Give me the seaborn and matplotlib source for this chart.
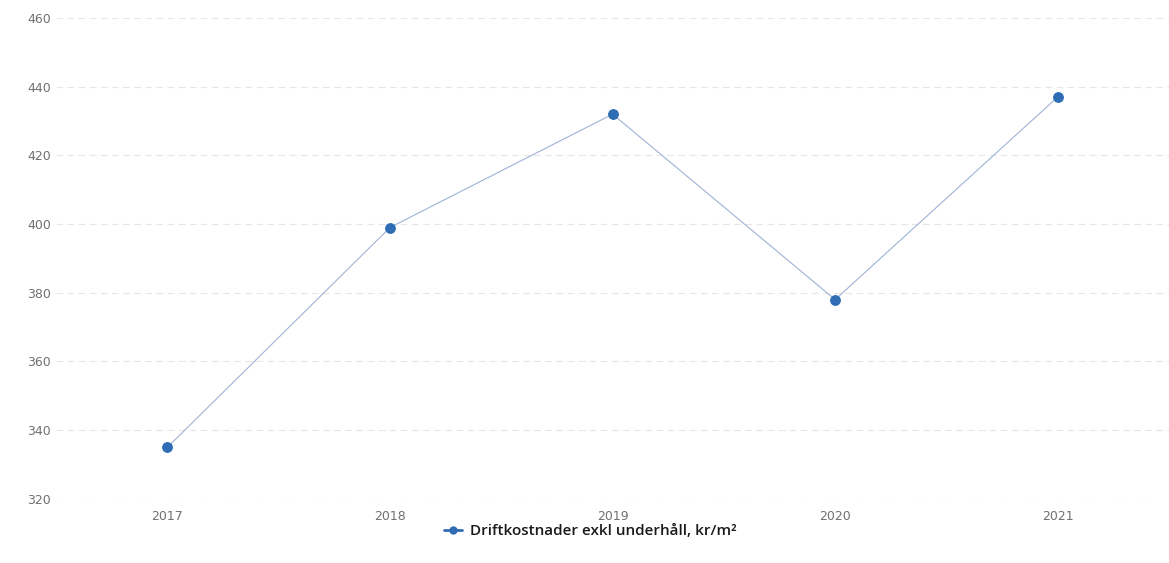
import pandas as pd
import matplotlib.pyplot as plt
from matplotlib.lines import Line2D
import seaborn as sns

years = ['2017', '2018', '2019', '2020', '2021']
values = [335, 399, 432, 378, 437]
series_name = 'Driftkostnader exkl underhåll, kr/m²'

df = pd.DataFrame({'year': years, 'value': values})

sns.set_style('white')
plt.rcParams['font.family'] = ['DejaVu Sans']

fig = plt.figure(figsize=(11.69, 5.63), dpi=100)
ax = fig.add_axes([0.048, 0.114, 0.952, 0.854])

sns.lineplot(data=df, x='year', y='value', ax=ax, color='#9fb3d6', linewidth=0.8,
             marker='o', markersize=7, markerfacecolor='#2e6db4',
             markeredgecolor='#2e6db4', legend=False)

ax.set_ylim(320, 460)
ax.set_xlim(-0.5, 4.5)
ax.set_yticks(range(320, 461, 20))
ax.grid(axis='y', color='#e6e6e6', linewidth=0.8, linestyle=(0, (6, 4)))
ax.set_xlabel('')
ax.set_ylabel('')
for s in ax.spines.values():
    s.set_visible(False)
ax.tick_params(axis='both', length=0, labelsize=9, labelcolor='#707070')
ax.tick_params(axis='x', pad=8)

handle = Line2D([], [], color='#2e6db4', linewidth=2, marker='o', markersize=5)
leg = ax.legend([handle], [series_name], loc='center', bbox_to_anchor=(0.48, -0.067),
                frameon=False, handlelength=1.2, handletextpad=0.5,
                prop={'family': 'Open Sans', 'size': 11, 'weight': 'semibold'})
for t in leg.get_texts():
    t.set_color('#1a1a1a')

fig.savefig('out.png', dpi=100)
